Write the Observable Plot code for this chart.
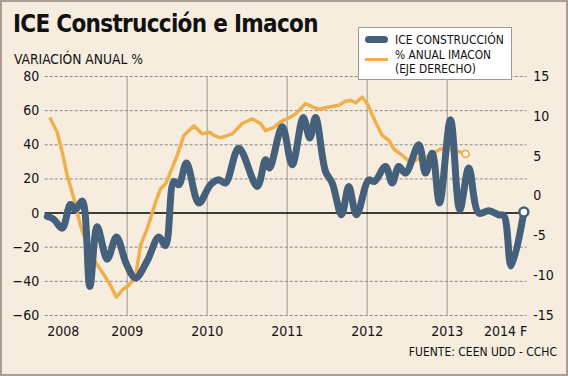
<!DOCTYPE html>
<html><head><meta charset="utf-8">
<script src="https://cdn.jsdelivr.net/npm/d3@7"></script>
<script src="https://cdn.jsdelivr.net/npm/@observablehq/plot@0.6"></script>
<style>
html,body{margin:0;padding:0;background:#f7eddf;}
#card{position:relative;width:568px;height:376px;background:#f7eddf;overflow:hidden;font-family:"DejaVu Sans Condensed","DejaVu Sans",sans-serif;color:#111;}
#frame{position:absolute;left:0;top:0;width:568px;height:376px;box-sizing:border-box;border:2px solid #ab9c94;pointer-events:none;}
#chart{position:absolute;left:0;top:0;}
#title{position:absolute;left:13px;top:10px;font-size:24px;font-weight:bold;letter-spacing:-0.7px;white-space:nowrap;}
#subtitle{position:absolute;left:14px;top:51px;font-size:13.7px;white-space:nowrap;}
#legend{position:absolute;left:358px;top:27px;width:154px;height:53px;box-sizing:border-box;background:#fff;border:1px solid #9a9a9a;}
#legend .t{position:absolute;left:36px;font-size:12px;white-space:nowrap;}
#legend .t2{font-size:11.8px;}
#legend .sw{position:absolute;left:6px;width:23px;}
#source{position:absolute;right:11px;top:345px;font-size:12px;white-space:nowrap;}
</style>
</head>
<body>
<div id="card">
  <div id="chart"></div>
  <div id="title">ICE Construcción e Imacon</div>
  <div id="subtitle">VARIACIÓN ANUAL %</div>
  <div id="legend"></div>
  <div id="source">FUENTE: CEEN UDD - CCHC</div>
  <div id="frame"></div>
</div>
<script>
// ---- data ----
const seriesNames = ["ICE CONSTRUCCIÓN", "% ANUAL IMACON", "(EJE DERECHO)"];
const iceYears = [2008.000,2008.079,2008.188,2008.291,2008.354,2008.438,2008.533,2008.625,2008.750,2008.866,2008.991,2009.104,2009.250,2009.395,2009.479,2009.583,2009.645,2009.741,2009.895,2010.041,2010.145,2010.229,2010.395,2010.625,2010.729,2010.779,2010.938,2011.063,2011.200,2011.283,2011.354,2011.479,2011.563,2011.679,2011.770,2011.866,2012.020,2012.091,2012.229,2012.313,2012.395,2012.479,2012.645,2012.729,2012.813,2012.904,2013.041,2013.158,2013.270,2013.395,2013.520,2013.645,2013.708,2013.800,2013.958];
const iceValues = [-2,-3.5,-8.8,5,2,7,-43,-8,-27,-14,-30,-38,-28,-14,-19,18.5,16.6,29.3,5.9,16.6,19.5,17.6,38,15.6,31.2,26.4,50.5,28.3,56,44,56,24.4,17.6,-1,15.6,-1,19.5,18.5,27.3,17.6,27.3,23.4,40,23.4,35,5.9,54.7,2,26.4,0,1.3,-1,-1.5,-31,0.6];
const imaconYears = [2008.041,2008.125,2008.188,2008.250,2008.333,2008.416,2008.500,2008.604,2008.729,2008.791,2008.866,2008.938,2009.020,2009.104,2009.166,2009.250,2009.354,2009.416,2009.479,2009.541,2009.625,2009.708,2009.833,2009.938,2010.033,2010.083,2010.166,2010.313,2010.438,2010.563,2010.666,2010.729,2010.833,2010.916,2011.041,2011.104,2011.229,2011.313,2011.395,2011.541,2011.645,2011.729,2011.791,2011.854,2011.938,2012.000,2012.104,2012.188,2012.270,2012.333,2012.438,2012.541,2012.645,2012.729,2012.813,2012.916,2013.020,2013.104,2013.229];
const imaconValues = [9.7,8.0,5.5,2.6,-0.3,-3.7,-6.2,-8.3,-10.2,-11.2,-12.7,-11.8,-11.2,-10.2,-6.2,-4.1,-0.8,0.9,1.5,3.0,5.1,7.6,8.8,7.8,8.0,7.6,7.3,7.8,9.1,9.7,9.1,8.2,8.6,9.3,9.9,10.3,11.6,11.2,10.9,11.2,11.4,11.9,12.0,11.7,12.4,11.6,9.3,7.6,7.0,5.9,5.1,4.2,4.7,4.9,5.3,5.9,5.9,5.7,5.3];
const leftTicks = [-60,-40,-20,0,20,40,60,80];
const rightTicks = [-15,-10,-5,0,5,10,15];
const gridValues = [-60,-40,-20,20,40,60,80];
const yearLines = [2009,2010,2011,2012,2013];
const xTickLabels = ["2008","2009","2010","2011","2012","2013","2014 F"];
const xTickYears = [2008,2009,2010,2011,2012,2013,2014];

// ---- colours ----
const ICE_COLOR = "#44607a";
const IMACON_COLOR = "#efb04c";

// right axis (-15..15) mapped onto left axis (-60..80)
const toLeft = r => (r + 15) * 140 / 30 - 60;
const toRight = l => (l + 60) * 30 / 140 - 15;

const ice = iceYears.map((x, i) => ({x, y: iceValues[i]}));
const imacon = imaconYears.map((x, i) => ({x, y: toLeft(imaconValues[i])}));
const xLabels = xTickYears.map((x, i) => ({x, label: xTickLabels[i]}));

const font = '"DejaVu Sans Condensed","DejaVu Sans",sans-serif';

const chart = Plot.plot({
  width: 568, height: 376,
  marginLeft: 46.7, marginRight: 41.3, marginTop: 76, marginBottom: 61,
  style: {background: "transparent", fontFamily: font, fontSize: "14px", color: "#111", overflow: "visible"},
  x: {domain: [2008, 2014], axis: null},
  y: {domain: [-60, 80], axis: null},
  marks: [
    Plot.ruleY(gridValues, {stroke: "#8a8a8a", strokeDasharray: "3,2", strokeWidth: 1, insetLeft: -2}),
    Plot.ruleX(yearLines, {y1: -60, y2: 80, stroke: "#9a9a9a", strokeWidth: 1}),
    Plot.ruleY([0], {stroke: "#000", strokeWidth: 1.5, insetLeft: -2}),
    Plot.line(imacon, {x: "x", y: "y", stroke: IMACON_COLOR, strokeWidth: 3.5, curve: "linear"}),
    Plot.line(ice, {x: "x", y: "y", stroke: ICE_COLOR, strokeWidth: 7, curve: "catmull-rom"}),
    Plot.dot(imacon.slice(-1), {x: "x", y: "y", r: 3.5, fill: "#fff", stroke: IMACON_COLOR, strokeWidth: 1.8}),
    Plot.dot(ice.slice(-1), {x: "x", y: "y", r: 4.5, fill: "#fff", stroke: ICE_COLOR, strokeWidth: 2.5}),
    Plot.axisY({ticks: leftTicks, tickSize: 0, tickPadding: 8, label: null, fontSize: 14}),
    Plot.axisY({anchor: "right", ticks: rightTicks.map(toLeft), tickFormat: v => String(Math.round(toRight(v))), tickSize: 0, tickPadding: 6, label: null, fontSize: 14}),
    Plot.text(xLabels.slice(1, -1), {x: "x", y: -60, text: "label", lineAnchor: "top", dy: 11, fontSize: 14}),
    Plot.text(xLabels.slice(0, 1), {x: "x", y: -60, text: "label", lineAnchor: "top", textAnchor: "start", dy: 11, fontSize: 14}),
    Plot.text(xLabels.slice(-1), {x: "x", y: -60, text: "label", lineAnchor: "top", textAnchor: "end", dy: 11, fontSize: 14})
  ]
});
document.getElementById("chart").append(chart);

// legend (HTML, built from the series names and colours)
const lg = document.getElementById("legend");
lg.innerHTML =
  `<div class="sw" style="top:8px;height:7px;border-radius:4px;background:${ICE_COLOR}"></div>` +
  `<div class="t" style="top:4.5px">${seriesNames[0]}</div>` +
  `<div class="sw" style="top:29.5px;height:3.5px;background:${IMACON_COLOR}"></div>` +
  `<div class="t t2" style="top:20.4px">${seriesNames[1]}</div>` +
  `<div class="t t2" style="top:34.2px">${seriesNames[2]}</div>`;
</script>
</body></html>
